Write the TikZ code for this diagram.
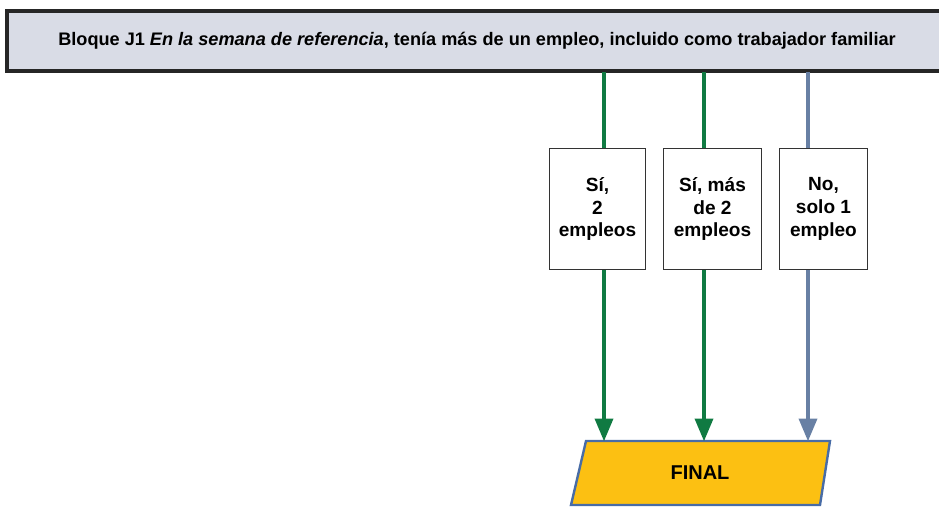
\documentclass[tikz,border=0pt]{standalone}
\usepackage{fontspec}
\setmainfont{Liberation Sans}
\usetikzlibrary{positioning,calc,arrows}

\definecolor{barfill}{RGB}{217,220,230}
\definecolor{yesgreen}{RGB}{16,122,66}
\definecolor{noblue}{RGB}{104,128,164}
\definecolor{finalfill}{RGB}{252,192,18}
\definecolor{finaldraw}{RGB}{72,108,166}

\begin{document}
\begin{tikzpicture}[x=0.75pt,y=-0.75pt,
    answer/.style={rectangle,draw=black!80,thick,fill=white,align=center,
        minimum width=73pt,minimum height=91pt,font=\bfseries\fontsize{14.3}{17}\selectfont},
    flow/.style={line width=3pt,-triangle 45}]
    \useasboundingbox (0,0) rectangle (939,507);

    \draw[line width=2.6pt,draw=black!85,fill=barfill] (7,11) rectangle (945,71);
    \node[font=\bfseries\fontsize{13.6}{16}\selectfont] (bloque) at (477,41)
        {Bloque J1 \textit{En la semana de referencia}, tenía más de un empleo, incluido como trabajador familiar};

    \node[answer,minimum width=72pt] (si2) at (597.5,209) {Sí,\\2\\empleos};
    \node[answer,minimum width=74pt] (simas) at (712.5,209) {Sí, más\\de 2\\empleos};
    \node[answer,minimum width=66pt] (nouno) at (823.5,209) {No,\\solo 1\\empleo};

    \draw[line width=1.8pt,draw=finaldraw,fill=finalfill] (586,441) -- (830,441) -- (820,505) -- (571,505) -- cycle;
    \node[font=\bfseries\fontsize{15}{18}\selectfont] (final) at (700,473) {FINAL};

    \coordinate (top-si2) at (604,72);
    \coordinate (top-simas) at (704,72);
    \coordinate (top-nouno) at (808,72);
    \coordinate (end-si2) at (604,441);
    \coordinate (end-simas) at (704,441);
    \coordinate (end-nouno) at (808,441);

    \draw[flow,draw=yesgreen,-] (top-si2) -- (si2.north -| top-si2);
    \draw[flow,draw=yesgreen] (si2.south -| top-si2) -- (end-si2);
    \draw[flow,draw=yesgreen,-] (top-simas) -- (simas.north -| top-simas);
    \draw[flow,draw=yesgreen] (simas.south -| top-simas) -- (end-simas);
    \draw[flow,draw=noblue,-] (top-nouno) -- (nouno.north -| top-nouno);
    \draw[flow,draw=noblue] (nouno.south -| top-nouno) -- (end-nouno);
\end{tikzpicture}
\end{document}
